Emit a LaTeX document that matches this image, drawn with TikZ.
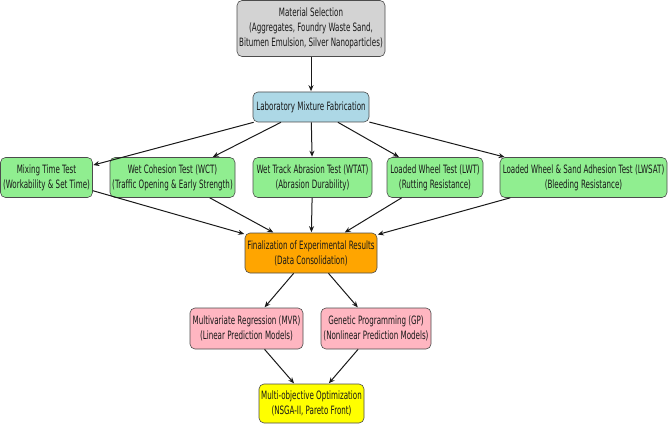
\documentclass[tikz,border=0pt]{standalone}
\usepackage{fontspec}
\setmainfont{DejaVu Sans}[FakeStretch=0.62]
\usetikzlibrary{arrows.meta}
\definecolor{gbox}{HTML}{D3D3D3}
\definecolor{bbox}{HTML}{ADD8E6}
\definecolor{grbox}{HTML}{90EE90}
\definecolor{obox}{HTML}{FFA500}
\definecolor{pbox}{HTML}{FFB6C1}
\definecolor{ybox}{HTML}{FFFF00}
\tikzset{
  box/.style={draw=black!70, line width=0.6pt, rounded corners=5pt, align=center,
    inner sep=0pt, font=\fontsize{11.5}{15}\selectfont, text=black!90},
  conn/.style={-{Stealth[length=6pt,width=5pt]}, line width=1pt, black!90, shorten >=0.5pt}
}
\begin{document}
\begin{tikzpicture}[x=1pt,y=-1pt]
\useasboundingbox (0,0) rectangle (669,425);
\node[box, fill=gbox, minimum width=148pt, minimum height=56pt] (ms) at (311,28.5)
  {Material Selection\\(Aggregates, Foundry Waste Sand,\\Bitumen Emulsion, Silver Nanoparticles)};
\node[box, fill=bbox, minimum width=116pt, minimum height=30pt] (lab) at (311,107)
  {Laboratory Mixture Fabrication};
\node[box, fill=grbox, minimum width=92pt, minimum height=40pt] (mt) at (46.5,177.5)
  {Mixing Time Test\\(Workability \& Set Time)};
\node[box, fill=grbox, minimum width=125pt, minimum height=40pt] (wct) at (172.5,177.5)
  {Wet Cohesion Test (WCT)\\(Traffic Opening \& Early Strength)};
\node[box, fill=grbox, minimum width=119pt, minimum height=40pt] (wtat) at (312.5,177.5)
  {Wet Track Abrasion Test (WTAT)\\(Abrasion Durability)};
\node[box, fill=grbox, minimum width=96pt, minimum height=40pt] (lwt) at (435,177.5)
  {Loaded Wheel Test (LWT)\\(Rutting Resistance)};
\node[box, fill=grbox, minimum width=167pt, minimum height=40pt] (lwsat) at (583.5,177.5)
  {Loaded Wheel \& Sand Adhesion Test (LWSAT)\\(Bleeding Resistance)};
\node[box, fill=obox, minimum width=132pt, minimum height=40pt] (fin) at (311,253)
  {Finalization of Experimental Results\\(Data Consolidation)};
\node[box, fill=pbox, minimum width=113pt, minimum height=41pt] (mvr) at (246.5,328.5)
  {Multivariate Regression (MVR)\\(Linear Prediction Models)};
\node[box, fill=pbox, minimum width=110pt, minimum height=41pt] (gp) at (376,328.5)
  {Genetic Programming (GP)\\(Nonlinear Prediction Models)};
\node[box, fill=ybox, minimum width=105pt, minimum height=39pt] (mo) at (311.5,403.5)
  {Multi-objective Optimization\\(NSGA-II, Pareto Front)};
\draw[conn] (ms) -- (lab);
\foreach \n in {mt,wct,wtat,lwt,lwsat}{
  \draw[conn] (lab) -- (\n);
  \draw[conn] (\n) -- (fin);
}
\draw[conn] (fin) -- (mvr);
\draw[conn] (fin) -- (gp);
\draw[conn] (mvr) -- (mo);
\draw[conn] (gp) -- (mo);
\end{tikzpicture}
\end{document}
